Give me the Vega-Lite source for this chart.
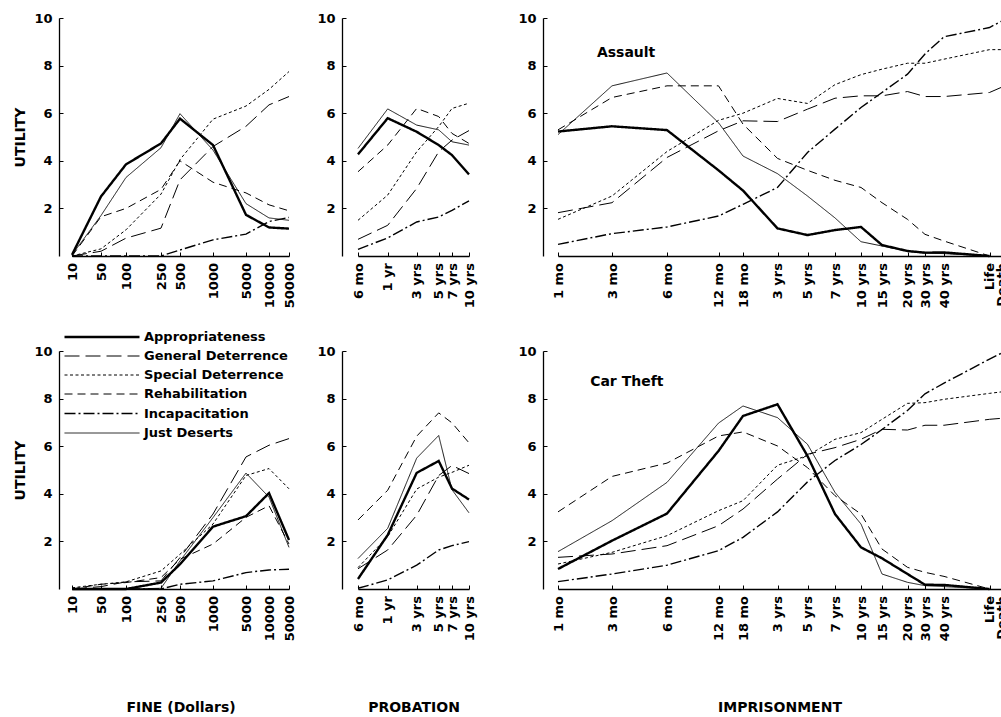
{
"$schema":"https://vega.github.io/schema/vega-lite/v6.json",
"padding":{"left":13,"top":12,"right":0,"bottom":0},
"background":"white",
"datasets":{
"assault_fine":[
{"series":"Appropriateness","x":10,"utility":0.05},{"series":"Appropriateness","x":50,"utility":2.5},{"series":"Appropriateness","x":100,"utility":3.85},{"series":"Appropriateness","x":250,"utility":4.73},{"series":"Appropriateness","x":500,"utility":5.77},{"series":"Appropriateness","x":1000,"utility":4.66},{"series":"Appropriateness","x":5000,"utility":1.73},{"series":"Appropriateness","x":10000,"utility":1.2},{"series":"Appropriateness","x":50000,"utility":1.15},
{"series":"General Deterrence","x":10,"utility":0},{"series":"General Deterrence","x":50,"utility":0.2},{"series":"General Deterrence","x":100,"utility":0.75},{"series":"General Deterrence","x":250,"utility":1.17},{"series":"General Deterrence","x":500,"utility":3.2},{"series":"General Deterrence","x":1000,"utility":4.6},{"series":"General Deterrence","x":5000,"utility":5.45},{"series":"General Deterrence","x":10000,"utility":6.35},{"series":"General Deterrence","x":50000,"utility":6.7},
{"series":"Special Deterrence","x":10,"utility":0},{"series":"Special Deterrence","x":50,"utility":0.3},{"series":"Special Deterrence","x":100,"utility":1.1},{"series":"Special Deterrence","x":250,"utility":2.6},{"series":"Special Deterrence","x":500,"utility":4.05},{"series":"Special Deterrence","x":1000,"utility":5.75},{"series":"Special Deterrence","x":5000,"utility":6.3},{"series":"Special Deterrence","x":10000,"utility":7.0},{"series":"Special Deterrence","x":50000,"utility":7.75},
{"series":"Rehabilitation","x":10,"utility":0},{"series":"Rehabilitation","x":50,"utility":1.65},{"series":"Rehabilitation","x":100,"utility":2.0},{"series":"Rehabilitation","x":250,"utility":2.8},{"series":"Rehabilitation","x":500,"utility":4.0},{"series":"Rehabilitation","x":1000,"utility":3.1},{"series":"Rehabilitation","x":5000,"utility":2.65},{"series":"Rehabilitation","x":10000,"utility":2.15},{"series":"Rehabilitation","x":50000,"utility":1.9},
{"series":"Incapacitation","x":10,"utility":0},{"series":"Incapacitation","x":50,"utility":0},{"series":"Incapacitation","x":100,"utility":0},{"series":"Incapacitation","x":250,"utility":0},{"series":"Incapacitation","x":500,"utility":0.25},{"series":"Incapacitation","x":1000,"utility":0.68},{"series":"Incapacitation","x":5000,"utility":0.92},{"series":"Incapacitation","x":10000,"utility":1.45},{"series":"Incapacitation","x":50000,"utility":1.62},
{"series":"Just Deserts","x":10,"utility":0.05},{"series":"Just Deserts","x":50,"utility":1.7},{"series":"Just Deserts","x":100,"utility":3.3},{"series":"Just Deserts","x":250,"utility":4.55},{"series":"Just Deserts","x":500,"utility":5.98},{"series":"Just Deserts","x":1000,"utility":4.45},{"series":"Just Deserts","x":5000,"utility":2.2},{"series":"Just Deserts","x":10000,"utility":1.6},{"series":"Just Deserts","x":50000,"utility":1.5}
],
"car_fine":[
{"series":"Appropriateness","x":10,"utility":0},{"series":"Appropriateness","x":50,"utility":0},{"series":"Appropriateness","x":100,"utility":0},{"series":"Appropriateness","x":250,"utility":0.27},{"series":"Appropriateness","x":500,"utility":1.04},{"series":"Appropriateness","x":1000,"utility":2.62},{"series":"Appropriateness","x":5000,"utility":3.06},{"series":"Appropriateness","x":10000,"utility":4.03},{"series":"Appropriateness","x":50000,"utility":2.06},
{"series":"General Deterrence","x":10,"utility":0},{"series":"General Deterrence","x":50,"utility":0.1},{"series":"General Deterrence","x":100,"utility":0.3},{"series":"General Deterrence","x":250,"utility":0.34},{"series":"General Deterrence","x":500,"utility":1.32},{"series":"General Deterrence","x":1000,"utility":3.15},{"series":"General Deterrence","x":5000,"utility":5.55},{"series":"General Deterrence","x":10000,"utility":6.04},{"series":"General Deterrence","x":50000,"utility":6.32},
{"series":"Special Deterrence","x":10,"utility":0.05},{"series":"Special Deterrence","x":50,"utility":0.2},{"series":"Special Deterrence","x":100,"utility":0.3},{"series":"Special Deterrence","x":250,"utility":0.76},{"series":"Special Deterrence","x":500,"utility":1.46},{"series":"Special Deterrence","x":1000,"utility":2.73},{"series":"Special Deterrence","x":5000,"utility":4.77},{"series":"Special Deterrence","x":10000,"utility":5.06},{"series":"Special Deterrence","x":50000,"utility":4.21},
{"series":"Rehabilitation","x":10,"utility":0},{"series":"Rehabilitation","x":50,"utility":0.2},{"series":"Rehabilitation","x":100,"utility":0.27},{"series":"Rehabilitation","x":250,"utility":0.48},{"series":"Rehabilitation","x":500,"utility":1.25},{"series":"Rehabilitation","x":1000,"utility":1.89},{"series":"Rehabilitation","x":5000,"utility":3.01},{"series":"Rehabilitation","x":10000,"utility":3.5},{"series":"Rehabilitation","x":50000,"utility":1.89},
{"series":"Incapacitation","x":10,"utility":0},{"series":"Incapacitation","x":50,"utility":0},{"series":"Incapacitation","x":100,"utility":0},{"series":"Incapacitation","x":250,"utility":0},{"series":"Incapacitation","x":500,"utility":0.2},{"series":"Incapacitation","x":1000,"utility":0.34},{"series":"Incapacitation","x":5000,"utility":0.69},{"series":"Incapacitation","x":10000,"utility":0.8},{"series":"Incapacitation","x":50000,"utility":0.83},
{"series":"Just Deserts","x":10,"utility":0},{"series":"Just Deserts","x":50,"utility":0},{"series":"Just Deserts","x":100,"utility":0},{"series":"Just Deserts","x":250,"utility":0.03},{"series":"Just Deserts","x":500,"utility":1.18},{"series":"Just Deserts","x":1000,"utility":3.0},{"series":"Just Deserts","x":5000,"utility":4.87},{"series":"Just Deserts","x":10000,"utility":3.86},{"series":"Just Deserts","x":50000,"utility":1.75}
],
"assault_prob":[
{"series":"Appropriateness","x":6,"utility":4.27},{"series":"Appropriateness","x":12,"utility":5.79},{"series":"Appropriateness","x":36,"utility":5.22},{"series":"Appropriateness","x":60,"utility":4.66},{"series":"Appropriateness","x":84,"utility":4.24},{"series":"Appropriateness","x":120,"utility":3.43},
{"series":"General Deterrence","x":6,"utility":0.7},{"series":"General Deterrence","x":12,"utility":1.29},{"series":"General Deterrence","x":36,"utility":2.84},{"series":"General Deterrence","x":60,"utility":4.38},{"series":"General Deterrence","x":84,"utility":4.87},{"series":"General Deterrence","x":120,"utility":5.27},
{"series":"Special Deterrence","x":6,"utility":1.5},{"series":"Special Deterrence","x":12,"utility":2.56},{"series":"Special Deterrence","x":36,"utility":4.38},{"series":"Special Deterrence","x":60,"utility":5.44},{"series":"Special Deterrence","x":84,"utility":6.2},{"series":"Special Deterrence","x":120,"utility":6.42},
{"series":"Rehabilitation","x":6,"utility":3.54},{"series":"Rehabilitation","x":12,"utility":4.66},{"series":"Rehabilitation","x":36,"utility":6.2},{"series":"Rehabilitation","x":60,"utility":5.86},{"series":"Rehabilitation","x":84,"utility":5.15},{"series":"Rehabilitation","x":120,"utility":4.73},
{"series":"Incapacitation","x":6,"utility":0.28},{"series":"Incapacitation","x":12,"utility":0.76},{"series":"Incapacitation","x":36,"utility":1.43},{"series":"Incapacitation","x":60,"utility":1.64},{"series":"Incapacitation","x":84,"utility":1.92},{"series":"Incapacitation","x":120,"utility":2.32},
{"series":"Just Deserts","x":6,"utility":4.52},{"series":"Just Deserts","x":12,"utility":6.18},{"series":"Just Deserts","x":36,"utility":5.5},{"series":"Just Deserts","x":60,"utility":5.3},{"series":"Just Deserts","x":84,"utility":4.8},{"series":"Just Deserts","x":120,"utility":4.66}
],
"car_prob":[
{"series":"Appropriateness","x":6,"utility":0.42},{"series":"Appropriateness","x":12,"utility":2.27},{"series":"Appropriateness","x":36,"utility":4.88},{"series":"Appropriateness","x":60,"utility":5.38},{"series":"Appropriateness","x":84,"utility":4.22},{"series":"Appropriateness","x":120,"utility":3.76},
{"series":"General Deterrence","x":6,"utility":0.85},{"series":"General Deterrence","x":12,"utility":1.64},{"series":"General Deterrence","x":36,"utility":3.1},{"series":"General Deterrence","x":60,"utility":4.77},{"series":"General Deterrence","x":84,"utility":5.19},{"series":"General Deterrence","x":120,"utility":4.85},
{"series":"Special Deterrence","x":6,"utility":0.9},{"series":"Special Deterrence","x":12,"utility":2.2},{"series":"Special Deterrence","x":36,"utility":4.2},{"series":"Special Deterrence","x":60,"utility":4.7},{"series":"Special Deterrence","x":84,"utility":4.9},{"series":"Special Deterrence","x":120,"utility":5.2},
{"series":"Rehabilitation","x":6,"utility":2.9},{"series":"Rehabilitation","x":12,"utility":4.15},{"series":"Rehabilitation","x":36,"utility":6.42},{"series":"Rehabilitation","x":60,"utility":7.4},{"series":"Rehabilitation","x":84,"utility":6.98},{"series":"Rehabilitation","x":120,"utility":6.14},
{"series":"Incapacitation","x":6,"utility":0.03},{"series":"Incapacitation","x":12,"utility":0.38},{"series":"Incapacitation","x":36,"utility":1.0},{"series":"Incapacitation","x":60,"utility":1.64},{"series":"Incapacitation","x":84,"utility":1.82},{"series":"Incapacitation","x":120,"utility":1.99},
{"series":"Just Deserts","x":6,"utility":1.28},{"series":"Just Deserts","x":12,"utility":2.55},{"series":"Just Deserts","x":36,"utility":5.5},{"series":"Just Deserts","x":60,"utility":6.45},{"series":"Just Deserts","x":84,"utility":4.17},{"series":"Just Deserts","x":120,"utility":3.2}
],
"assault_imp":[
{"series":"Appropriateness","x":1,"utility":5.23},{"series":"Appropriateness","x":3,"utility":5.45},{"series":"Appropriateness","x":6,"utility":5.29},{"series":"Appropriateness","x":12,"utility":3.6},{"series":"Appropriateness","x":18,"utility":2.75},{"series":"Appropriateness","x":36,"utility":1.16},{"series":"Appropriateness","x":60,"utility":0.88},{"series":"Appropriateness","x":84,"utility":1.09},{"series":"Appropriateness","x":120,"utility":1.22},{"series":"Appropriateness","x":180,"utility":0.46},{"series":"Appropriateness","x":240,"utility":0.21},{"series":"Appropriateness","x":360,"utility":0.14},{"series":"Appropriateness","x":480,"utility":0.15},{"series":"Appropriateness","x":600,"utility":0},
{"series":"General Deterrence","x":1,"utility":1.82},{"series":"General Deterrence","x":3,"utility":2.24},{"series":"General Deterrence","x":6,"utility":4.14},{"series":"General Deterrence","x":12,"utility":5.26},{"series":"General Deterrence","x":18,"utility":5.68},{"series":"General Deterrence","x":36,"utility":5.65},{"series":"General Deterrence","x":60,"utility":6.17},{"series":"General Deterrence","x":84,"utility":6.63},{"series":"General Deterrence","x":120,"utility":6.73},{"series":"General Deterrence","x":180,"utility":6.73},{"series":"General Deterrence","x":240,"utility":6.91},{"series":"General Deterrence","x":360,"utility":6.7},{"series":"General Deterrence","x":480,"utility":6.7},{"series":"General Deterrence","x":600,"utility":6.87},{"series":"General Deterrence","x":720,"utility":7.08},
{"series":"Special Deterrence","x":1,"utility":1.54},{"series":"Special Deterrence","x":3,"utility":2.52},{"series":"Special Deterrence","x":6,"utility":4.39},{"series":"Special Deterrence","x":12,"utility":5.7},{"series":"Special Deterrence","x":18,"utility":6.0},{"series":"Special Deterrence","x":36,"utility":6.62},{"series":"Special Deterrence","x":60,"utility":6.41},{"series":"Special Deterrence","x":84,"utility":7.2},{"series":"Special Deterrence","x":120,"utility":7.62},{"series":"Special Deterrence","x":180,"utility":7.85},{"series":"Special Deterrence","x":240,"utility":8.1},{"series":"Special Deterrence","x":360,"utility":8.1},{"series":"Special Deterrence","x":480,"utility":8.27},{"series":"Special Deterrence","x":600,"utility":8.67},{"series":"Special Deterrence","x":720,"utility":8.67},
{"series":"Rehabilitation","x":1,"utility":5.3},{"series":"Rehabilitation","x":3,"utility":6.66},{"series":"Rehabilitation","x":6,"utility":7.15},{"series":"Rehabilitation","x":12,"utility":7.15},{"series":"Rehabilitation","x":18,"utility":5.54},{"series":"Rehabilitation","x":36,"utility":4.1},{"series":"Rehabilitation","x":60,"utility":3.6},{"series":"Rehabilitation","x":84,"utility":3.18},{"series":"Rehabilitation","x":120,"utility":2.88},{"series":"Rehabilitation","x":180,"utility":2.24},{"series":"Rehabilitation","x":240,"utility":1.54},{"series":"Rehabilitation","x":360,"utility":0.91},{"series":"Rehabilitation","x":480,"utility":0.63},{"series":"Rehabilitation","x":600,"utility":0},
{"series":"Incapacitation","x":1,"utility":0.49},{"series":"Incapacitation","x":3,"utility":0.94},{"series":"Incapacitation","x":6,"utility":1.22},{"series":"Incapacitation","x":12,"utility":1.68},{"series":"Incapacitation","x":18,"utility":2.17},{"series":"Incapacitation","x":36,"utility":2.88},{"series":"Incapacitation","x":60,"utility":4.35},{"series":"Incapacitation","x":84,"utility":5.33},{"series":"Incapacitation","x":120,"utility":6.24},{"series":"Incapacitation","x":180,"utility":6.87},{"series":"Incapacitation","x":240,"utility":7.64},{"series":"Incapacitation","x":360,"utility":8.49},{"series":"Incapacitation","x":480,"utility":9.21},{"series":"Incapacitation","x":600,"utility":9.6},{"series":"Incapacitation","x":720,"utility":9.86},
{"series":"Just Deserts","x":1,"utility":5.1},{"series":"Just Deserts","x":3,"utility":7.15},{"series":"Just Deserts","x":6,"utility":7.69},{"series":"Just Deserts","x":12,"utility":5.6},{"series":"Just Deserts","x":18,"utility":4.2},{"series":"Just Deserts","x":36,"utility":3.46},{"series":"Just Deserts","x":60,"utility":2.52},{"series":"Just Deserts","x":84,"utility":1.6},{"series":"Just Deserts","x":120,"utility":0.6},{"series":"Just Deserts","x":180,"utility":0.42},{"series":"Just Deserts","x":240,"utility":0.2},{"series":"Just Deserts","x":360,"utility":0.12},{"series":"Just Deserts","x":480,"utility":0.1},{"series":"Just Deserts","x":600,"utility":0}
],
"car_imp":[
{"series":"Appropriateness","x":1,"utility":0.84},{"series":"Appropriateness","x":3,"utility":2.03},{"series":"Appropriateness","x":6,"utility":3.17},{"series":"Appropriateness","x":12,"utility":5.8},{"series":"Appropriateness","x":18,"utility":7.27},{"series":"Appropriateness","x":36,"utility":7.76},{"series":"Appropriateness","x":60,"utility":5.59},{"series":"Appropriateness","x":84,"utility":3.15},{"series":"Appropriateness","x":120,"utility":1.75},{"series":"Appropriateness","x":180,"utility":1.29},{"series":"Appropriateness","x":240,"utility":0.63},{"series":"Appropriateness","x":360,"utility":0.18},{"series":"Appropriateness","x":480,"utility":0.17},{"series":"Appropriateness","x":600,"utility":0},
{"series":"General Deterrence","x":1,"utility":1.33},{"series":"General Deterrence","x":3,"utility":1.47},{"series":"General Deterrence","x":6,"utility":1.82},{"series":"General Deterrence","x":12,"utility":2.66},{"series":"General Deterrence","x":18,"utility":3.36},{"series":"General Deterrence","x":36,"utility":4.62},{"series":"General Deterrence","x":60,"utility":5.66},{"series":"General Deterrence","x":84,"utility":5.94},{"series":"General Deterrence","x":120,"utility":6.29},{"series":"General Deterrence","x":180,"utility":6.71},{"series":"General Deterrence","x":240,"utility":6.68},{"series":"General Deterrence","x":360,"utility":6.88},{"series":"General Deterrence","x":480,"utility":6.88},{"series":"General Deterrence","x":600,"utility":7.13},{"series":"General Deterrence","x":720,"utility":7.17},
{"series":"Special Deterrence","x":1,"utility":1.05},{"series":"Special Deterrence","x":3,"utility":1.54},{"series":"Special Deterrence","x":6,"utility":2.24},{"series":"Special Deterrence","x":12,"utility":3.29},{"series":"Special Deterrence","x":18,"utility":3.71},{"series":"Special Deterrence","x":36,"utility":5.2},{"series":"Special Deterrence","x":60,"utility":5.6},{"series":"Special Deterrence","x":84,"utility":6.29},{"series":"Special Deterrence","x":120,"utility":6.57},{"series":"Special Deterrence","x":180,"utility":7.13},{"series":"Special Deterrence","x":240,"utility":7.8},{"series":"Special Deterrence","x":360,"utility":7.83},{"series":"Special Deterrence","x":480,"utility":7.97},{"series":"Special Deterrence","x":600,"utility":8.22},{"series":"Special Deterrence","x":720,"utility":8.28},
{"series":"Rehabilitation","x":1,"utility":3.24},{"series":"Rehabilitation","x":3,"utility":4.73},{"series":"Rehabilitation","x":6,"utility":5.29},{"series":"Rehabilitation","x":12,"utility":6.43},{"series":"Rehabilitation","x":18,"utility":6.6},{"series":"Rehabilitation","x":36,"utility":6.01},{"series":"Rehabilitation","x":60,"utility":5.1},{"series":"Rehabilitation","x":84,"utility":3.92},{"series":"Rehabilitation","x":120,"utility":3.15},{"series":"Rehabilitation","x":180,"utility":1.68},{"series":"Rehabilitation","x":240,"utility":0.91},{"series":"Rehabilitation","x":360,"utility":0.7},{"series":"Rehabilitation","x":480,"utility":0.53},{"series":"Rehabilitation","x":600,"utility":0},
{"series":"Incapacitation","x":1,"utility":0.31},{"series":"Incapacitation","x":3,"utility":0.63},{"series":"Incapacitation","x":6,"utility":1.0},{"series":"Incapacitation","x":12,"utility":1.61},{"series":"Incapacitation","x":18,"utility":2.17},{"series":"Incapacitation","x":36,"utility":3.24},{"series":"Incapacitation","x":60,"utility":4.5},{"series":"Incapacitation","x":84,"utility":5.4},{"series":"Incapacitation","x":120,"utility":6.07},{"series":"Incapacitation","x":180,"utility":6.7},{"series":"Incapacitation","x":240,"utility":7.5},{"series":"Incapacitation","x":360,"utility":8.2},{"series":"Incapacitation","x":480,"utility":8.65},{"series":"Incapacitation","x":600,"utility":9.66},{"series":"Incapacitation","x":720,"utility":9.9},
{"series":"Just Deserts","x":1,"utility":1.57},{"series":"Just Deserts","x":3,"utility":2.87},{"series":"Just Deserts","x":6,"utility":4.48},{"series":"Just Deserts","x":12,"utility":6.97},{"series":"Just Deserts","x":18,"utility":7.69},{"series":"Just Deserts","x":36,"utility":7.2},{"series":"Just Deserts","x":60,"utility":6.08},{"series":"Just Deserts","x":84,"utility":4.06},{"series":"Just Deserts","x":120,"utility":2.73},{"series":"Just Deserts","x":180,"utility":0.63},{"series":"Just Deserts","x":240,"utility":0.28},{"series":"Just Deserts","x":360,"utility":0.14},{"series":"Just Deserts","x":480,"utility":0.1},{"series":"Just Deserts","x":600,"utility":0}
]
},
"columns":3,
"spacing":{"row":37,"column":14},
"concat":[
{"width":243,"height":238,"data":{"name":"assault_fine"},"mark":{"type":"line","color":"#000"},
"encoding":{
"x":{"field":"x","type":"quantitative","scale":{"domain":[10,50,100,250,500,1000,5000,10000,50000],"range":[13,42,67,102,121,154,187,210,230],"nice":false,"zero":false},"axis":{"values":[10,50,100,250,500,1000,5000,10000,50000],"format":"d","title":null}},
"y":{"field":"utility","type":"quantitative","scale":{"domain":[0,10],"nice":false},"axis":{"values":[2,4,6,8,10],"title":"UTILITY"}},
"strokeDash":{"field":"series","type":"nominal","scale":{"domain":["Appropriateness","General Deterrence","Special Deterrence","Rehabilitation","Incapacitation","Just Deserts"],"range":[[1,0],[15,6],[3,2.5],[8,5],[11,3,2,3],[1,0]]},"legend":{"title":null}},
"strokeWidth":{"field":"series","type":"nominal","scale":{"type":"ordinal","domain":["Appropriateness","General Deterrence","Special Deterrence","Rehabilitation","Incapacitation","Just Deserts"],"range":[2.4,1,1,1,1.4,0.9]},"legend":{"title":null}}
}},
{"width":141,"height":238,"data":{"name":"assault_prob"},"mark":{"type":"line","color":"#000"},
"encoding":{
"x":{"field":"x","type":"quantitative","scale":{"domain":[6,12,36,60,84,120],"range":[16,45.7,74.7,96.7,110,127],"nice":false,"zero":false},"axis":{"values":[6,12,36,60,84,120],"labelExpr":"datum.value==6?'6 mo':datum.value==12?'1 yr':datum.value==36?'3 yrs':datum.value==60?'5 yrs':datum.value==84?'7 yrs':'10 yrs'","title":null}},
"y":{"field":"utility","type":"quantitative","scale":{"domain":[0,10],"nice":false},"axis":{"values":[2,4,6,8,10],"title":null,"minExtent":25}},
"strokeDash":{"field":"series","type":"nominal","legend":{"title":null}},
"strokeWidth":{"field":"series","type":"nominal","scale":{"type":"ordinal"},"legend":{"title":null}}
}},
{"width":460,"height":238,"layer":[
{"data":{"name":"assault_imp"},"mark":{"type":"line","color":"#000"},
"encoding":{
"x":{"field":"x","type":"quantitative","scale":{"domain":[1,3,6,12,18,36,60,84,120,180,240,360,480,600,720],"range":[15,69,124,175.5,200,234.5,264.5,292,318,339,364.5,382,401,446.5,458],"nice":false,"zero":false},"axis":{"values":[1,3,6,12,18,36,60,84,120,180,240,360,480,600,720],"labelOverlap":false,"labelExpr":"datum.value==1?'1 mo':datum.value==3?'3 mo':datum.value==6?'6 mo':datum.value==12?'12 mo':datum.value==18?'18 mo':datum.value==36?'3 yrs':datum.value==60?'5 yrs':datum.value==84?'7 yrs':datum.value==120?'10 yrs':datum.value==180?'15 yrs':datum.value==240?'20 yrs':datum.value==360?'30 yrs':datum.value==480?'40 yrs':datum.value==600?'Life':'Death'","title":null}},
"y":{"field":"utility","type":"quantitative","scale":{"domain":[0,10],"nice":false},"axis":{"values":[2,4,6,8,10],"labelOverlap":false,"title":null,"minExtent":46}},
"strokeDash":{"field":"series","type":"nominal","legend":{"title":null}},
"strokeWidth":{"field":"series","type":"nominal","scale":{"type":"ordinal"},"legend":{"title":null}}
}},
{"data":{"values":[{"label":"Assault"}]},"mark":{"type":"text","align":"left","baseline":"alphabetic","font":"DejaVu Sans","fontWeight":"bold","fontSize":14,"color":"#000"},
"encoding":{"text":{"field":"label"},
"x":{"datum":2.44,"type":"quantitative","axis":{"values":[1,3,6,12,18,36,60,84,120,180,240,360,480,600,720],"labelOverlap":false,"labelExpr":"datum.value==1?'1 mo':datum.value==3?'3 mo':datum.value==6?'6 mo':datum.value==12?'12 mo':datum.value==18?'18 mo':datum.value==36?'3 yrs':datum.value==60?'5 yrs':datum.value==84?'7 yrs':datum.value==120?'10 yrs':datum.value==180?'15 yrs':datum.value==240?'20 yrs':datum.value==360?'30 yrs':datum.value==480?'40 yrs':datum.value==600?'Life':'Death'","title":null}},
"y":{"datum":8.38,"type":"quantitative","axis":{"values":[2,4,6,8,10],"labelOverlap":false,"title":null,"minExtent":46}}}}
]},
{"width":243,"height":238,"data":{"name":"car_fine"},"mark":{"type":"line","color":"#000"},
"encoding":{
"x":{"field":"x","type":"quantitative","scale":{"domain":[10,50,100,250,500,1000,5000,10000,50000],"range":[13,42,67,102,121,154,187,210,230],"nice":false,"zero":false},"axis":{"values":[10,50,100,250,500,1000,5000,10000,50000],"format":"d","title":"FINE (Dollars)","titleY":111,"titleBaseline":"top"}},
"y":{"field":"utility","type":"quantitative","scale":{"domain":[0,10],"nice":false},"axis":{"values":[2,4,6,8,10],"title":"UTILITY"}},
"strokeDash":{"field":"series","type":"nominal","legend":{"title":null}},
"strokeWidth":{"field":"series","type":"nominal","scale":{"type":"ordinal"},"legend":{"title":null}}
}},
{"width":141,"height":238,"data":{"name":"car_prob"},"mark":{"type":"line","color":"#000"},
"encoding":{
"x":{"field":"x","type":"quantitative","scale":{"domain":[6,12,36,60,84,120],"range":[16,45.7,74.7,96.7,110,127],"nice":false,"zero":false},"axis":{"values":[6,12,36,60,84,120],"labelExpr":"datum.value==6?'6 mo':datum.value==12?'1 yr':datum.value==36?'3 yrs':datum.value==60?'5 yrs':datum.value==84?'7 yrs':'10 yrs'","title":"PROBATION","titleY":111,"titleBaseline":"top"}},
"y":{"field":"utility","type":"quantitative","scale":{"domain":[0,10],"nice":false},"axis":{"values":[2,4,6,8,10],"title":null,"minExtent":25}},
"strokeDash":{"field":"series","type":"nominal","legend":{"title":null}},
"strokeWidth":{"field":"series","type":"nominal","scale":{"type":"ordinal"},"legend":{"title":null}}
}},
{"width":460,"height":238,"layer":[
{"data":{"name":"car_imp"},"mark":{"type":"line","color":"#000"},
"encoding":{
"x":{"field":"x","type":"quantitative","scale":{"domain":[1,3,6,12,18,36,60,84,120,180,240,360,480,600,720],"range":[15,69,124,175.5,200,234.5,264.5,292,318,339,364.5,382,401,446.5,458],"nice":false,"zero":false},"axis":{"values":[1,3,6,12,18,36,60,84,120,180,240,360,480,600,720],"labelOverlap":false,"labelExpr":"datum.value==1?'1 mo':datum.value==3?'3 mo':datum.value==6?'6 mo':datum.value==12?'12 mo':datum.value==18?'18 mo':datum.value==36?'3 yrs':datum.value==60?'5 yrs':datum.value==84?'7 yrs':datum.value==120?'10 yrs':datum.value==180?'15 yrs':datum.value==240?'20 yrs':datum.value==360?'30 yrs':datum.value==480?'40 yrs':datum.value==600?'Life':'Death'","title":"IMPRISONMENT","titleY":111,"titleBaseline":"top"}},
"y":{"field":"utility","type":"quantitative","scale":{"domain":[0,10],"nice":false},"axis":{"values":[2,4,6,8,10],"labelOverlap":false,"title":null,"minExtent":46}},
"strokeDash":{"field":"series","type":"nominal","legend":{"title":null}},
"strokeWidth":{"field":"series","type":"nominal","scale":{"type":"ordinal"},"legend":{"title":null}}
}},
{"data":{"values":[{"label":"Car Theft"}]},"mark":{"type":"text","align":"left","baseline":"alphabetic","font":"DejaVu Sans","fontWeight":"bold","fontSize":14,"color":"#000"},
"encoding":{"text":{"field":"label"},
"x":{"datum":2.19,"type":"quantitative","axis":{"values":[1,3,6,12,18,36,60,84,120,180,240,360,480,600,720],"labelOverlap":false,"labelExpr":"datum.value==1?'1 mo':datum.value==3?'3 mo':datum.value==6?'6 mo':datum.value==12?'12 mo':datum.value==18?'18 mo':datum.value==36?'3 yrs':datum.value==60?'5 yrs':datum.value==84?'7 yrs':datum.value==120?'10 yrs':datum.value==180?'15 yrs':datum.value==240?'20 yrs':datum.value==360?'30 yrs':datum.value==480?'40 yrs':datum.value==600?'Life':'Death'","title":"IMPRISONMENT","titleY":111,"titleBaseline":"top"}},
"y":{"datum":8.55,"type":"quantitative","axis":{"values":[2,4,6,8,10],"labelOverlap":false,"title":null,"minExtent":46}}}}
]}
],
"config":{
"view":{"stroke":null},
"axis":{"grid":false,"domainColor":"#000","domainWidth":1.3,"tickColor":"#000","tickWidth":1,"tickSize":-4,"labelFont":"DejaVu Sans","labelFontWeight":"bold","labelColor":"#000","labelFontSize":13,"labelOverlap":false,"labelFlush":false,"labelBound":false,"titleFont":"DejaVu Sans","titleFontWeight":"bold","titleColor":"#000","titleFontSize":14,"titlePadding":6},
"axisX":{"labelAngle":270,"labelPadding":10.5},
"axisY":{"labelPadding":11},
"legend":{"orient":"none","legendX":64,"legendY":310,"padding":0,"symbolType":"M-9,0H1","symbolSize":225,"symbolStrokeColor":"#000","labelFont":"DejaVu Sans","labelFontWeight":"bold","labelFontSize":13,"labelColor":"#000","rowPadding":4,"labelOffset":3,"labelLimit":300}
}
}
